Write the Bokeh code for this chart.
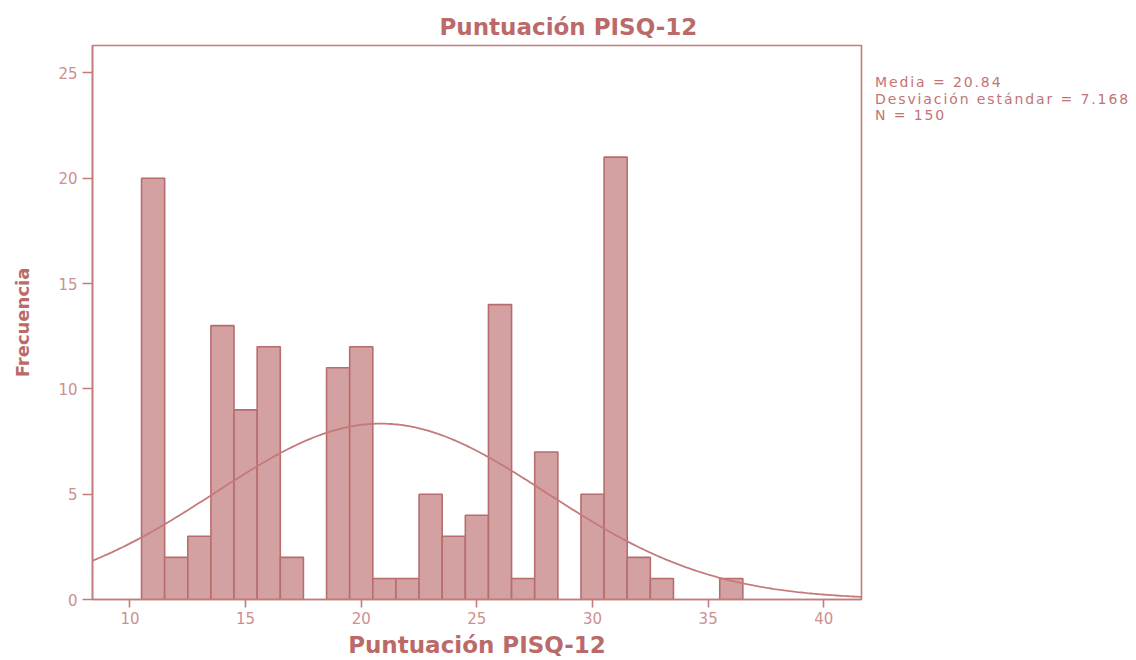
import numpy as np
from bokeh.plotting import figure
from bokeh.models import Range1d, FixedTicker, Div
from bokeh.layouts import row
from bokeh.embed import file_html
from bokeh.resources import INLINE

# ---- data ----
bin_centers = [11, 12, 13, 14, 15, 16, 17, 18, 19, 20, 21, 22, 23, 24, 25,
               26, 27, 28, 29, 30, 31, 32, 33, 34, 35, 36]
counts = [20, 2, 3, 13, 9, 12, 2, 0, 11, 12, 1, 1, 5, 3, 4,
          14, 1, 7, 0, 5, 21, 2, 1, 0, 0, 1]
bin_width = 1.0
mean_val = 20.84
sd_val = 7.168
n_val = 150
x_ticks = [10, 15, 20, 25, 30, 35, 40]
y_ticks = [0, 5, 10, 15, 20, 25]
title_text = "Puntuación PISQ-12"
x_label = "Puntuación PISQ-12"
y_label = "Frecuencia"
stats_lines = ["Media = 20.84", "Desviación estándar = 7.168", "N = 150"]

# ---- colours ----
frame_col = "#c27c7c"
bar_fill = "#d3a1a1"
bar_line = "#b86d6d"
curve_col = "#c47a7a"
title_col = "#bb6a6a"
stats_col = "#c27474"
tick_col = "#cc9090"

X0, X1 = 8.38, 41.63
Y0, Y1 = 0.0, 26.3

p = figure(width=870, height=660, output_backend="svg", toolbar_location=None,
           x_range=Range1d(X0, X1), y_range=Range1d(Y0, Y1),
           min_border_left=92, min_border_right=9, min_border_top=45,
           min_border_bottom=61)
p.background_fill_color = "white"
p.border_fill_color = "white"
p.outline_line_color = frame_col
p.outline_line_width = 1.6
p.xgrid.visible = False
p.ygrid.visible = False

# title
p.title.text = title_text
p.title.align = "left"
p.title.offset = 347
p.title.text_font = "DejaVu Sans"
p.title.text_font_style = "bold"
p.title.text_font_size = "23px"
p.title.text_color = title_col
p.title.standoff = 12

# histogram bars (skip empty bins)
lefts = [c - bin_width / 2 for c, k in zip(bin_centers, counts) if k > 0]
rights = [c + bin_width / 2 for c, k in zip(bin_centers, counts) if k > 0]
tops = [k for k in counts if k > 0]
p.quad(left=lefts, right=rights, bottom=0, top=tops,
       fill_color=bar_fill, line_color=bar_line, line_width=1.6)

# fitted normal curve
xs = np.linspace(X0, X1, 400)
ys = n_val * bin_width / (sd_val * np.sqrt(2 * np.pi)) * np.exp(-0.5 * ((xs - mean_val) / sd_val) ** 2)
p.line(xs, ys, line_color=curve_col, line_width=1.8)

# axes styling
for ax in (p.xaxis[0], p.yaxis[0]):
    ax.axis_line_color = frame_col
    ax.axis_line_width = 1.6
    ax.major_tick_line_color = frame_col
    ax.major_tick_line_width = 1.6
    ax.major_tick_in = 0
    ax.minor_tick_line_color = None
    ax.major_label_text_color = tick_col
    ax.major_label_text_font = "DejaVu Sans"
    ax.major_label_text_font_size = "15px"
    ax.axis_label_text_color = title_col
    ax.axis_label_text_font = "DejaVu Sans"
    ax.axis_label_text_font_style = "bold"

p.xaxis.ticker = FixedTicker(ticks=x_ticks)
p.yaxis.ticker = FixedTicker(ticks=y_ticks)
p.xaxis.major_tick_out = 8
p.yaxis.major_tick_out = 10
p.xaxis.major_label_standoff = 4
p.yaxis.major_label_standoff = 5
p.xaxis.axis_label = x_label
p.xaxis.axis_label_text_font_size = "23px"
p.xaxis.axis_label_standoff = 5
p.yaxis.axis_label = y_label
p.yaxis.axis_label_text_font_size = "18px"
p.yaxis.axis_label_standoff = 22

# statistics text to the right of the frame
stats_html = "<br>".join(stats_lines)
div = Div(text=stats_html, width=262, height=200,
          styles={"font-family": "DejaVu Sans", "font-size": "14px",
                  "letter-spacing": "1.9px",
                  "line-height": "16.5px", "color": stats_col,
                  "padding-top": "69px", "padding-left": "0px",
                  "white-space": "nowrap"})

layout = row(p, div)
open("out.html", "w").write(file_html(layout, INLINE))
